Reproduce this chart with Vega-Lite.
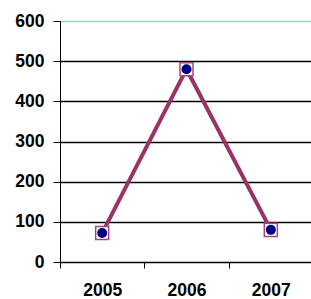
{
  "$schema": "https://vega.github.io/schema/vega-lite/v6.json",
  "autosize": "none",
  "width": 253,
  "height": 241,
  "padding": {"left": 60, "top": 21, "right": 0, "bottom": 37},
  "background": "white",
  "data": {"values": [
    {"year": "2005", "value": 72},
    {"year": "2006", "value": 480},
    {"year": "2007", "value": 80}
  ]},
  "config": {
    "view": {"stroke": null},
    "axis": {"labelFont": "Liberation Sans", "labelFontWeight": "bold", "labelFontSize": 17.5, "labelColor": "black", "domainColor": "black", "tickColor": "black", "titleFont": "Liberation Sans"}
  },
  "encoding": {
    "x": {"field": "year", "type": "ordinal", "scale": {"type": "band", "paddingInner": 0, "paddingOuter": 0},
      "axis": {"title": null, "labelAngle": 0, "tickBand": "extent", "tickSize": 6, "labelPadding": 13, "domainWidth": 1, "grid": false}},
    "y": {"field": "value", "type": "quantitative", "scale": {"domain": [0, 600], "nice": false},
      "axis": {"title": null, "values": [0, 100, 200, 300, 400, 500, 600], "tickSize": 7, "labelPadding": 9, "grid": true,
        "gridColor": {"condition": {"test": "datum.value == 600", "value": "#99cccc"}, "value": "black"}, "gridOpacity": 1, "gridWidth": 1.3}}
  },
  "layer": [
    {"mark": {"type": "line", "color": "#993366", "strokeWidth": 4}},
    {"mark": {"type": "point", "shape": "square", "filled": true, "fill": "white", "stroke": "#a8457f", "strokeWidth": 1.5, "size": 170, "opacity": 1}},
    {"mark": {"type": "point", "shape": "circle", "filled": true, "color": "#000080", "size": 100, "opacity": 1}}
  ]
}
